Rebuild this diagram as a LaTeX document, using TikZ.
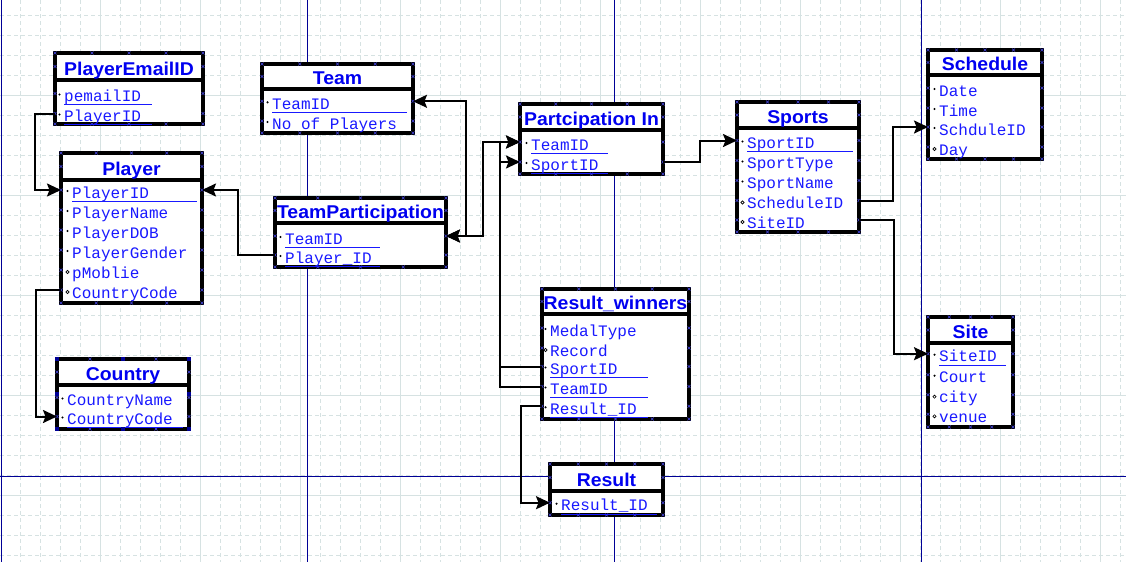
\documentclass[tikz,border=0pt]{standalone}
\usepackage{fontspec}
\setmainfont{Liberation Sans}
\newfontfamily\erMono{Liberation Mono}
\newfontfamily\erTitle[FakeStretch=1.05]{Liberation Sans}
\usetikzlibrary{arrows.meta}
\definecolor{gridc}{RGB}{214,226,226}
\definecolor{navyl}{RGB}{0,0,150}
\definecolor{ttlblue}{RGB}{0,0,240}
\definecolor{fldblue}{RGB}{25,25,255}
\definecolor{xblue}{RGB}{70,70,225}
\tikzset{
  tbox/.style={rectangle, draw=black, line width=3.5pt, fill=white, inner sep=0pt, outer sep=0pt},
  tline/.style={draw=black, line width=3.5pt},
  ttitle/.style={font=\erTitle\fontsize{18.5}{18.5}\selectfont\bfseries, text=ttlblue, inner sep=0pt},
  tfield/.style={font=\erMono\fontsize{16}{16}\selectfont, text=fldblue, inner sep=0pt},
  ulin/.style={draw=fldblue, line width=1pt},
  conn/.style={draw=black, line width=2pt},
  tip/.tip={Stealth[length=14pt, width=13pt, inset=2.5pt]},
  arr/.style={conn, -tip},
  biarr/.style={conn, tip-tip},
  gridd/.style={draw=gridc, line width=0.9pt, dash pattern=on 4pt off 3pt},
  grids/.style={draw=gridc, line width=1pt},
  navy/.style={draw=navyl, line width=1pt},
  xmk/.pic={\draw[xblue, line width=0.5pt] (-1.5,-1.5) -- (1.5,1.5) (-1.5,1.5) -- (1.5,-1.5);},
  hsq/.style={fill=navyl, minimum size=4.5pt, inner sep=0pt, rectangle}
}
% table: name, L, R, T, S, B, title
\newcommand\ertable[7]{%
  \node[tbox, minimum width={(#3-#2)*1pt}, minimum height={(#6-#4)*1pt}, anchor=north west] (#1) at (#2,#4) {};
  \draw[tline] (#2,#5) -- (#3,#5);
  \node[ttitle, anchor=base] (#1-title) at ({(#2+#3)/2},{#5-4.5}) {#7};
  \foreach \i in {0,1,2,3,4} {\pic at ({#2+(#3-#2)*\i/4},#4) {xmk}; \pic at ({#2+(#3-#2)*\i/4},#6) {xmk};}
  \pic at (#2,{(#4+#5)/2}) {xmk}; \pic at (#3,{(#4+#5)/2}) {xmk};
}
% field: tbl, key, L, R, textx, baseline, m/o, text
\newcommand\erfield[8]{%
  \node[tfield, anchor=base west] (#1-#2) at (#5,#6) {#8};
  \coordinate (#1-#2-l) at (#3,{#6-8});
  \coordinate (#1-#2-r) at (#4,{#6-8});
  \pic at (#1-#2-l) {xmk}; \pic at (#1-#2-r) {xmk};
  \if#7m\fill[black] ({#5-4.5},{#6-7}) circle[radius=1.2pt];\else\draw[black, line width=0.6pt] ({#5-4.5},{#6-6}) circle[radius=1.6pt];\fi
}
\newcommand\erul[3]{\draw[ulin] (#1,{#3+3.4}) -- (#2,{#3+3.4});}
\begin{document}
\begin{tikzpicture}[x=1pt, y=-1pt]
\useasboundingbox (0,0) rectangle (1126,562);
\fill[white] (0,0) rectangle (1126,562);
% grid
\foreach \x in {20,40,...,1120} \draw[gridd] (\x,0) -- (\x,562);
\foreach \y in {15,35,...,555} \draw[gridd] (0,\y) -- (1126,\y);
\foreach \x in {100,200,...,1100} \draw[grids] (\x,0) -- (\x,562);
\foreach \y in {95,195,...,495} \draw[grids] (0,\y) -- (1126,\y);
% page lines
\draw[navy] (1,0) -- (1,562);
\draw[navy] (307,0) -- (307,562);
\draw[navy] (614,0) -- (614,562);
\draw[navy] (921,0) -- (921,562);
\draw[navy] (0,476) -- (1126,476);

% PlayerEmailID
\ertable{pe}{55}{203}{53}{80}{124}{PlayerEmailID}
\erfield{pe}{em}{55}{203}{64}{101.5}{m}{pemailID}
\erfield{pe}{pid}{55}{203}{64}{121.5}{m}{PlayerID}
\erul{64}{152}{101.5}
\erul{64}{152}{121.5}

% Player
\ertable{pl}{61}{202}{153}{180}{303}{Player}
\erfield{pl}{pid}{61}{202}{72}{198}{m}{PlayerID}
\erfield{pl}{name}{61}{202}{72}{218}{m}{PlayerName}
\erfield{pl}{dob}{61}{202}{72}{238}{m}{PlayerDOB}
\erfield{pl}{gen}{61}{202}{72}{258}{m}{PlayerGender}
\erfield{pl}{mob}{61}{202}{72}{278}{o}{pMoblie}
\erfield{pl}{cc}{61}{202}{72}{298}{o}{CountryCode}
\erul{72}{197}{198}

% Country
\ertable{co}{57}{189}{359}{385}{429}{Country}
\erfield{co}{name}{57}{189}{67}{405.5}{m}{CountryName}
\erfield{co}{cc}{57}{189}{67}{424.5}{m}{CountryCode}
\erul{67}{183}{424}
\foreach \p in {(57,359),(123,359),(189,359),(57,394),(189,394),(57,429),(123,429),(189,429)} \node[hsq] at \p {};

% Team
\ertable{tm}{262}{413}{64}{89}{133}{Team}
\erfield{tm}{tid}{262}{413}{272}{109.3}{m}{TeamID}
\erfield{tm}{nop}{262}{413}{272}{129}{m}{No of Players}
\erul{272}{407}{109.3}

% TeamParticipation
\ertable{tp}{275}{446}{198}{223}{267}{TeamParticipation}
\erfield{tp}{tid}{275}{446}{285}{244}{m}{TeamID}
\erfield{tp}{pid}{275}{446}{285}{263}{m}{Player\_ID}
\erul{285}{380}{244}
\erul{285}{380}{263}

% Partcipation In
\ertable{pi}{520}{663}{104}{130}{174}{Partcipation In}
\erfield{pi}{tid}{520}{663}{531}{150}{m}{TeamID}
\erfield{pi}{sid}{520}{663}{531}{170}{m}{SportID}
\erul{531}{608}{150}
\erul{531}{608}{170}

% Sports
\ertable{sp}{737}{859}{102}{128}{232}{Sports}
\erfield{sp}{sid}{737}{859}{747}{148.5}{m}{SportID}
\erfield{sp}{type}{737}{859}{747}{168.5}{m}{SportType}
\erfield{sp}{name}{737}{859}{747}{188.5}{m}{SportName}
\erfield{sp}{sch}{737}{859}{747}{208.5}{o}{ScheduleID}
\erfield{sp}{site}{737}{859}{747}{228}{o}{SiteID}
\erul{747}{853}{148.5}

% Schedule
\ertable{sc}{928}{1042}{50}{75}{159}{Schedule}
\erfield{sc}{date}{928}{1042}{939}{96}{m}{Date}
\erfield{sc}{time}{928}{1042}{939}{116}{m}{Time}
\erfield{sc}{sid}{928}{1042}{939}{135}{m}{SchduleID}
\erfield{sc}{day}{928}{1042}{939}{155}{o}{Day}

% Result_winners
\ertable{rw}{542}{689}{289}{314}{419}{Result\_winners}
\erfield{rw}{med}{542}{689}{550}{336}{m}{MedalType}
\erfield{rw}{rec}{542}{689}{550}{356}{o}{Record}
\erfield{rw}{sid}{542}{689}{550}{374.5}{m}{SportID}
\erfield{rw}{tid}{542}{689}{550}{394.5}{m}{TeamID}
\erfield{rw}{rid}{542}{689}{550}{414.3}{m}{Result\_ID}
\erul{550}{648}{374.5}
\erul{550}{648}{394.5}
\erul{550}{648}{414.3}

% Result
\ertable{rs}{550}{663}{464}{491}{515}{Result}
\erfield{rs}{rid}{550}{663}{561}{510.7}{m}{Result\_ID}
\erul{561}{657}{510.7}

% Site
\ertable{si}{928}{1013}{317}{343}{427}{Site}
\erfield{si}{sid}{928}{1013}{939}{361.7}{m}{SiteID}
\erfield{si}{court}{928}{1013}{939}{382.7}{m}{Court}
\erfield{si}{city}{928}{1013}{939}{402.7}{o}{city}
\erfield{si}{venue}{928}{1013}{939}{422.3}{o}{venue}
\erul{939}{1006}{361.7}

% connectors
\draw[arr] (pe-pid-l) -- ++(-20,0) |- (pl-pid-l);
\draw[arr] (tp-pid-l) -- ++(-37,0) |- (pl-pid-r);
\draw[arr] (pl-cc-l) -- ++(-25,0) |- (co-cc-l);
\draw[biarr] (tp-tid-r) -- ++(20,0) |- (tm-tid-r);
\draw[biarr] (tp-tid-r) -- ++(37,0) |- (pi-tid-l);
\draw[arr] (rw-sid-l) -- ++(-42,0) |- (pi-sid-l);
\draw[arr] (rw-tid-l) -- ++(-42,0) |- (pi-tid-l);
\draw[arr] (pi-sid-r) -- ++(37,0) |- (sp-sid-l);
\draw[arr] (sp-sch-r) -- ++(34,0) |- (sc-sid-l);
\draw[arr] (sp-site-r) -- ++(35,0) |- (si-sid-l);
\draw[arr] (rw-rid-l) -- ++(-21,0) |- (rs-rid-l);
\end{tikzpicture}
\end{document}
